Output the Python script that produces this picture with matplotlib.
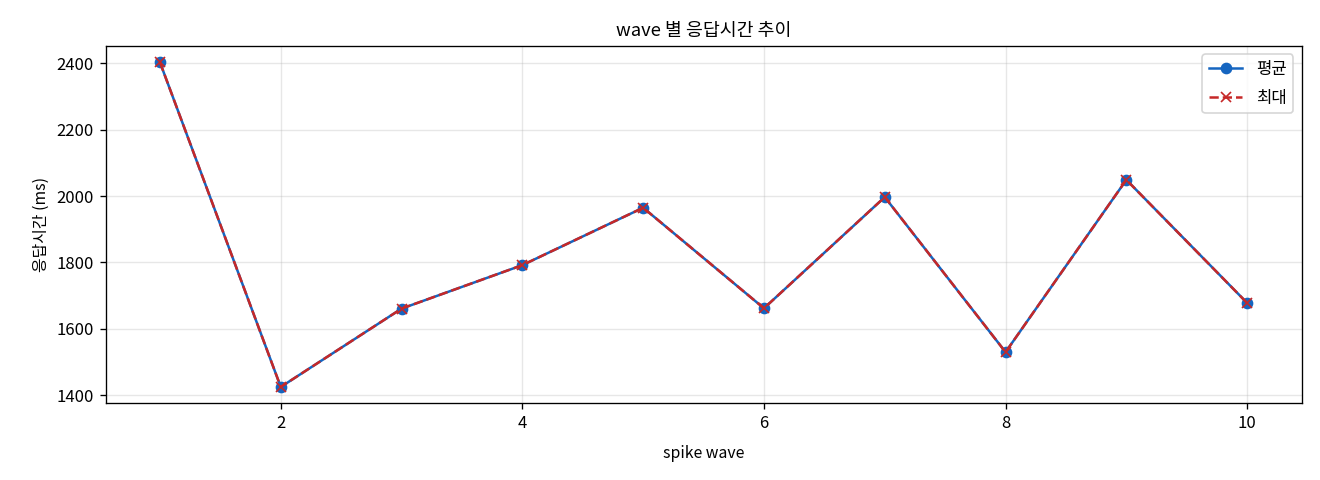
import matplotlib
matplotlib.use('Agg')
import matplotlib.pyplot as plt

plt.rcParams['font.family'] = ['Noto Sans CJK KR', 'DejaVu Sans']

# wave 별 응답시간 (ms)
waves = [1, 2, 3, 4, 5, 6, 7, 8, 9, 10]
avg_ms = [2403, 1425, 1661, 1792, 1965, 1662, 1997, 1530, 2049, 1678]
max_ms = [2403, 1425, 1661, 1792, 1965, 1662, 1997, 1530, 2049, 1678]

fig, ax = plt.subplots(figsize=(11, 4), dpi=120)
fig.subplots_adjust(left=0.080, right=0.986, top=0.904, bottom=0.160)

ax.plot(waves, avg_ms, marker='o', color='#1565C0', linewidth=1.5, markersize=6, label='평균')
ax.plot(waves, max_ms, marker='x', linestyle='--', color='#C62828', linewidth=1.5, markersize=6, label='최대')

ax.set_title('wave 별 응답시간 추이', fontsize=11)
ax.set_xlabel('spike wave', fontsize=9.5, labelpad=8)
ax.set_ylabel('응답시간 (ms)', fontsize=9.5)
ax.tick_params(labelsize=10)
ax.grid(True, alpha=0.3)
ax.legend(loc='upper right', fontsize=10, labelspacing=0.7)

fig.savefig('out.png', dpi=120)
